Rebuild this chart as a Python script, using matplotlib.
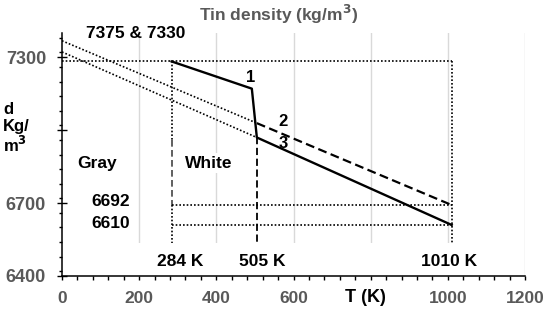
import matplotlib
matplotlib.use("Agg")
import matplotlib.pyplot as plt
from matplotlib.patches import Rectangle
from matplotlib.ticker import MultipleLocator, FixedLocator

plt.rcParams['font.family'] = ['Liberation Sans', 'DejaVu Sans']
plt.rcParams['font.weight'] = 'bold'

# ---- data ----
solid_T = [284, 492, 505, 1010]
solid_d = [7283, 7171, 6970, 6610]
dashed_T = [505, 1010]
dashed_d = [7029, 6692]
dot_up_T = [0, 505]
dot_up_d = [7368, 7029]
dot_lo_T = [0, 505]
dot_lo_d = [7322, 6970]

T_marks = [284, 505, 1010]
d_marks = [6692, 6610]
d_top = 7283
d_floor = 6535

x_ticks = [0, 200, 400, 600, 800, 1000, 1200]
x_labels = ['0', '200', '400', '600', '', '1000', '1200']
y_ticks = [6400, 6700, 7000, 7300]
y_labels = ['6400', '6700', '', '7300']

W, H = 550, 311
fig = plt.figure(figsize=(W / 100, H / 100), dpi=100)
ax = fig.add_axes([62 / W, 1 - 276 / H, (525 - 62) / W, (276 - 33) / H])
ax.set_xlim(0, 1200)
ax.set_ylim(6400, 7400)

gray_txt = '#595959'
grid_c = '#d9d9d9'

# gridlines
for x in x_ticks[1:]:
    ax.axvline(x, color=grid_c, lw=1.0, zorder=0.5)
# white strip at bottom hiding gridlines
ax.add_patch(Rectangle((155, 6400), 980, d_floor - 6400, facecolor='white',
                       edgecolor='none', zorder=1))

dot = (0, (1, 1.2))
# reference lines
ax.plot([0, T_marks[2]], [d_top, d_top], color='black', lw=1.2, ls=dot, zorder=2)
ax.plot([T_marks[2], T_marks[2]], [d_top, d_floor], color='black', lw=1.2, ls=dot, zorder=2)
ax.plot([T_marks[0], T_marks[0]], [d_top, 6960], color='black', lw=1.2, ls=dot, zorder=2)
ax.plot([T_marks[0], T_marks[0]], [6960, d_marks[0]], color='#444444', lw=1.2, ls=(0, (4, 2)), zorder=2)
ax.plot([T_marks[0], T_marks[0]], [d_marks[0], d_floor], color='black', lw=1.2, ls=dot, zorder=2)
ax.plot([T_marks[1], T_marks[1]], [solid_d[2], d_floor], color='black', lw=1.3, ls=(0, (4, 2)), zorder=2)
for dm in d_marks:
    ax.plot([T_marks[0], T_marks[2]], [dm, dm], color='black', lw=1.2, ls=dot, zorder=2)

ax.plot(dot_up_T, dot_up_d, color='black', lw=1.2, ls=dot, zorder=3)
ax.plot(dot_lo_T, dot_lo_d, color='black', lw=1.2, ls=dot, zorder=3)
ax.plot(dashed_T, dashed_d, color='black', lw=1.6, ls=(0, (4, 2)), zorder=3)
ax.plot(solid_T, solid_d, color='black', lw=1.7, ls='-', zorder=4)

# axes styling
for s in ['top', 'right']:
    ax.spines[s].set_visible(False)
for s in ['left', 'bottom']:
    ax.spines[s].set_linewidth(1.1)
    ax.spines[s].set_zorder(5)

ax.xaxis.set_major_locator(FixedLocator(x_ticks))
ax.set_xticklabels(x_labels)
ax.xaxis.set_minor_locator(MultipleLocator(40))
ax.yaxis.set_major_locator(FixedLocator(y_ticks))
ax.set_yticklabels(y_labels)
ax.yaxis.set_minor_locator(MultipleLocator(60))

ax.tick_params(axis='x', which='both', direction='out', length=3, width=1.0, pad=7.5,
               labelsize=12.5, labelcolor=gray_txt)
ax.tick_params(axis='y', which='major', direction='inout', length=7, width=1.0, pad=8,
               labelsize=13, labelcolor=gray_txt)
ax.tick_params(axis='y', which='minor', direction='out', length=2, width=1.0)
for lab in ax.get_xticklabels() + ax.get_yticklabels():
    lab.set_fontweight('bold')

# texts (figure pixel positions)
def ftext(x, y, s, **kw):
    fig.text(x / W, 1 - y / H, s, fontweight='bold', **kw)

ftext(279, 14, 'Tin density (kg/m$^\\mathbf{3}$)', fontsize=12.5, color=gray_txt,
      ha='center', va='center')
ftext(136, 34, '7375 & 7330', fontsize=12.5, ha='center', va='center')
ftext(251, 78, '1', fontsize=12, ha='center', va='center')
ftext(283, 121, '2', fontsize=12, ha='center', va='center')
ftext(283, 143, '3', fontsize=12, ha='center', va='center')
ftext(3, 109, 'd', fontsize=12, ha='left', va='center')
ftext(3, 127, 'Kg/', fontsize=12, ha='left', va='center')
ftext(3, 145, 'm$^\\mathbf{3}$', fontsize=12, ha='left', va='center')

box = dict(facecolor='white', edgecolor='none', pad=1.5)
ftext(97, 164, 'Gray', fontsize=12.5, ha='center', va='center', bbox=box)
ftext(209, 163, 'White', fontsize=12.5, ha='center', va='center', bbox=box)
ftext(111, 201, '6692', fontsize=12.5, ha='center', va='center')
ftext(111, 223, '6610', fontsize=12.5, ha='center', va='center')
ftext(180, 261, '284 K', fontsize=12.5, ha='center', va='center')
ftext(262, 261, '505 K', fontsize=12.5, ha='center', va='center')
ftext(449.5, 261, '1010 K', fontsize=12.5, ha='center', va='center')
ftext(365, 297, 'T (K)', fontsize=13, ha='center', va='center')

fig.savefig('out.png', dpi=100)
